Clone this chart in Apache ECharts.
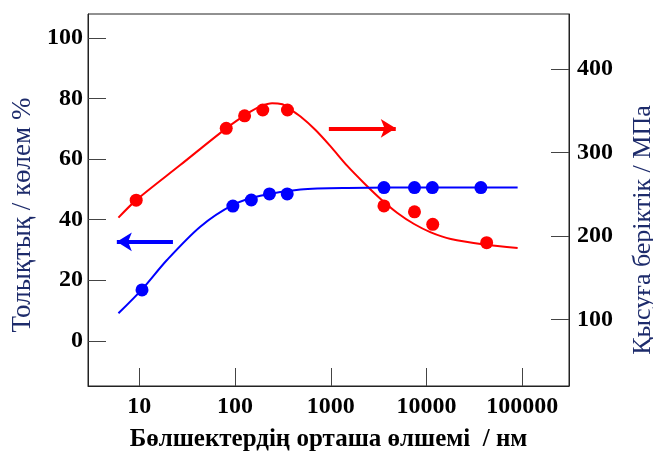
<!DOCTYPE html>
<html>
<head>
<meta charset="utf-8">
<script src="https://cdn.jsdelivr.net/npm/echarts@6/dist/echarts.min.js"></script>
<style>
  html, body { margin: 0; padding: 0; background: #fff; }
  #chart { width: 653px; height: 451px; }
</style>
</head>
<body>
<div id="chart"></div>
<script>
// tick labels
const sizeTicks = [10, 100, 1000, 10000, 100000];
const volumeTicks = [0, 20, 40, 60, 80, 100];
const strengthTicks = [100, 200, 300, 400];

// толықтық (left axis), measured points + fitted curve
const volumeSize = [10.7, 95, 148, 229, 351, 3590, 7480, 11500, 36900];
const volumeValue = [16.8, 44.5, 46.5, 48.5, 48.5, 50.6, 50.6, 50.6, 50.6];
const volumeCurveSize = [6.07, 10.7, 19.5, 43.4, 95.4, 184, 483, 1490, 11070, 89300];
const volumeCurveValue = [9.1, 17.0, 26.7, 37.7, 44.9, 47.9, 50.0, 50.5, 50.6, 50.6];

// қысуға беріктік (right axis), measured points + fitted curve
const strengthSize = [9.3, 81, 126, 195, 353, 3590, 7480, 11600, 42400];
const strengthValue = [243, 329, 344, 351, 351, 236, 229, 214, 192];
const strengthCurveSize = [6.07, 9.3, 26.8, 81, 145, 189, 244, 313, 351, 483, 693, 995, 1488, 2218, 3317, 4962, 7410, 11070, 17900, 40000, 89300];
const strengthCurveValue = [222, 243, 285, 329, 349, 356, 359.2, 357.8, 354.2, 343.1, 327, 307.4, 284, 263.6, 244.4, 227.6, 214.4, 204.4, 196.4, 189.8, 185.6];

// arrows showing which axis each curve belongs to
const strengthArrow = [[955, 329], [4770, 329]];
const volumeArrow = [[22.5, 32.7], [5.84, 32.7]];

const zip = (a, b) => a.map((v, i) => [v, b[i]]);

const tickFont = {
  fontFamily: 'Liberation Serif',
  fontWeight: 'bold',
  fontSize: 24,
  color: '#000'
};
const axisLine = { show: true, onZero: false, lineStyle: { color: '#222', width: 1 } };
const axisTick = { show: true, inside: true, length: 18, lineStyle: { color: '#444', width: 1 } };

const arrowLine = (pts, color) => ({
  silent: true,
  symbol: ['none', 'arrow'],
  symbolSize: [14, 15],
  label: { show: false },
  lineStyle: { color: color, width: 4, type: 'solid' },
  emphasis: { disabled: true },
  data: [[{ coord: pts[0] }, { coord: pts[1] }]]
});

const chart = echarts.init(document.getElementById('chart'));
chart.setOption({
  animation: false,
  grid: {
    left: 88, right: 84, top: 14, bottom: 65,
    outerBoundsMode: 'none',
    containLabel: false,
    show: true, borderColor: '#222', borderWidth: 1
  },
  xAxis: {
    type: 'log',
    logBase: 10,
    min: 2.92,
    max: 307000,
    name: 'Бөлшектердің орташа өлшемі  / нм',
    nameLocation: 'middle',
    nameGap: 41,
    nameTextStyle: { fontFamily: 'Liberation Serif', fontWeight: 'bold', fontSize: 25, color: '#000' },
    axisLine: axisLine,
    axisTick: Object.assign({ customValues: sizeTicks }, axisTick),
    axisLabel: Object.assign({ customValues: sizeTicks, margin: 9, formatter: v => String(Math.round(v)) }, tickFont),
    splitLine: { show: false },
    minorTick: { show: false }
  },
  yAxis: [
    {
      type: 'value',
      position: 'left',
      min: -14.9,
      max: 107.9,
      name: 'Толықтық / көлем %',
      nameLocation: 'middle',
      nameRotate: 90,
      nameGap: 49,
      nameTextStyle: { fontFamily: 'Liberation Serif', fontSize: 27, color: '#1d2b6b', padding: [0, 30, 0, 0] },
      axisLine: axisLine,
      axisTick: Object.assign({ customValues: volumeTicks }, axisTick),
      axisLabel: Object.assign({ customValues: volumeTicks, margin: 5 }, tickFont),
      splitLine: { show: false }
    },
    {
      type: 'value',
      position: 'right',
      min: 20.3,
      max: 466,
      name: 'Қысуға беріктік / МПа',
      nameLocation: 'middle',
      nameRotate: 90,
      nameGap: 61,
      nameTextStyle: { fontFamily: 'Liberation Serif', fontSize: 26, color: '#1d2b6b', padding: [0, 60, 0, 0] },
      axisLine: axisLine,
      axisTick: Object.assign({ customValues: strengthTicks }, axisTick),
      axisLabel: Object.assign({ customValues: strengthTicks, margin: 8 }, tickFont),
      splitLine: { show: false }
    }
  ],
  series: [
    {
      type: 'line',
      yAxisIndex: 1,
      data: zip(strengthCurveSize, strengthCurveValue),
      smooth: 0.3,
      showSymbol: false,
      lineStyle: { color: '#ff0000', width: 2 },
      silent: true,
      markLine: arrowLine(strengthArrow, '#ff0000')
    },
    {
      type: 'line',
      yAxisIndex: 0,
      data: zip(volumeCurveSize, volumeCurveValue),
      smooth: 0.3,
      showSymbol: false,
      lineStyle: { color: '#0000ff', width: 2 },
      silent: true,
      markLine: arrowLine(volumeArrow, '#0000ff')
    },
    {
      type: 'scatter',
      yAxisIndex: 1,
      data: zip(strengthSize, strengthValue),
      symbolSize: 13,
      itemStyle: { color: '#ff0000', opacity: 1 },
      z: 5
    },
    {
      type: 'scatter',
      yAxisIndex: 0,
      data: zip(volumeSize, volumeValue),
      symbolSize: 13,
      itemStyle: { color: '#0000ff', opacity: 1 },
      z: 5
    }
  ]
});
</script>
</body>
</html>
